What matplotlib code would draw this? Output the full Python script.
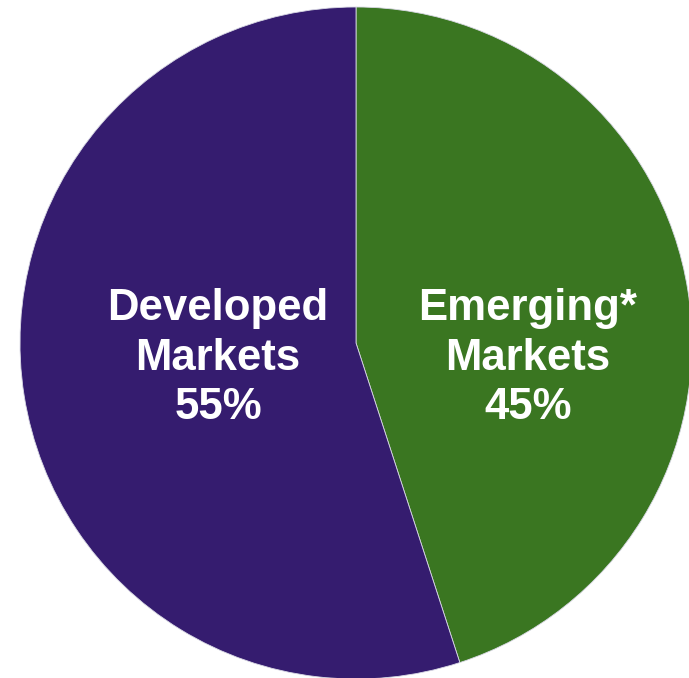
import matplotlib.pyplot as plt

# Regional split of the portfolio
labels = ['Emerging*\nMarkets', 'Developed\nMarkets']
shares = [45, 55]
colors = ['#3a7621', '#351c6f']

# label anchor points (x, y) in figure pixels
label_pos = [(528, 358), (218, 358)]

fig = plt.figure(figsize=(6.89, 6.78), dpi=100)
ax = fig.add_axes([0, 0, 1, 1])

ax.pie(shares, colors=colors, startangle=90, counterclock=False,
       center=(356, 678 - 343), radius=336,
       wedgeprops=dict(edgecolor='#d8d8e4', linewidth=0.6))

for lab, val, (x, y) in zip(labels, shares, label_pos):
    ax.text(x, 678 - y, f'{lab}\n{val}%', ha='center', va='center',
            color='white', fontsize=31.5, fontweight='bold',
            family='Liberation Sans', linespacing=1.27)

ax.set_xlim(0, 689)
ax.set_ylim(0, 678)
ax.set_aspect('equal')
ax.axis('off')

fig.savefig('out.png', dpi=100)
